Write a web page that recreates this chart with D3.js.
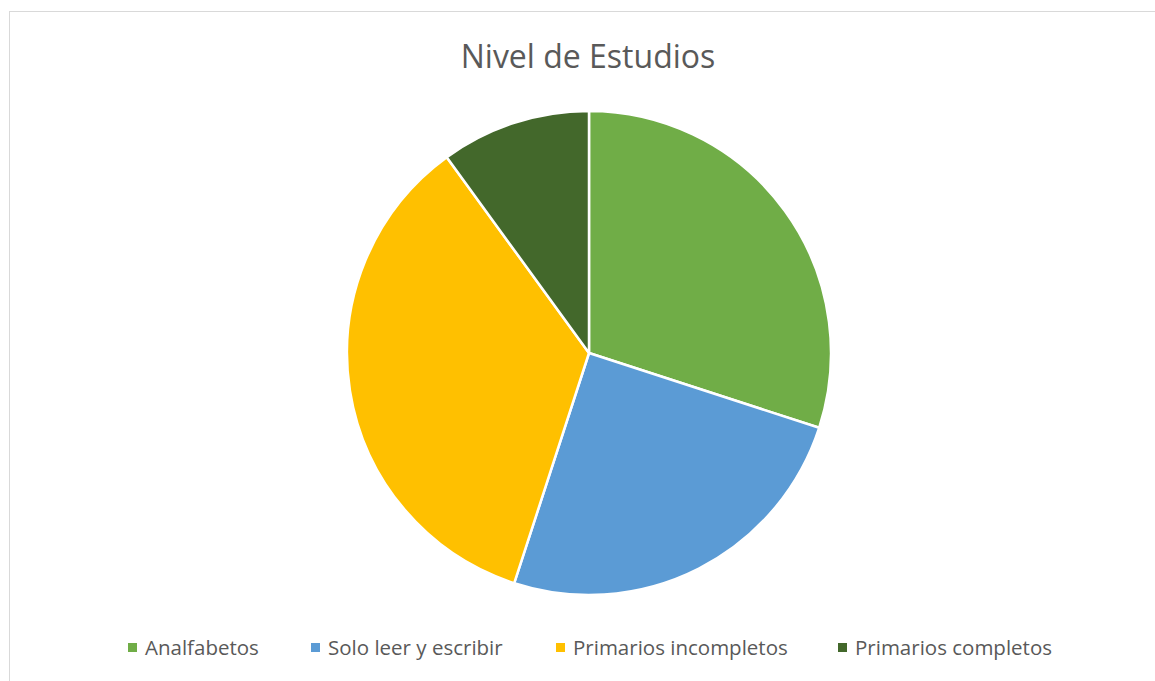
<!DOCTYPE html>
<html><head><meta charset="utf-8">
<script src="https://cdn.jsdelivr.net/npm/d3@7"></script>
<style>body{margin:0;background:#fff;} svg{display:block;}</style>
</head><body>
<script>
const categories = ["Analfabetos", "Solo leer y escribir", "Primarios incompletos", "Primarios completos"];
const values = [30, 25, 35, 10];
const colors = ["#70AD47", "#5B9BD5", "#FFC000", "#43682B"];
const title = "Nivel de Estudios";

const W = 1155, H = 681;
const svg = d3.select("body").append("svg").attr("width", W).attr("height", H);
svg.append("rect").attr("width", W).attr("height", H).attr("fill", "#fff");
svg.append("rect").attr("x", 9.5).attr("y", 11.5).attr("width", W + 20).attr("height", H + 20)
  .attr("fill", "none").attr("stroke", "#D9D9D9").attr("stroke-width", 1);

svg.append("text").attr("x", 588).attr("y", 68).attr("text-anchor", "middle")
  .attr("font-family", "'Open Sans', sans-serif").attr("font-size", 32).attr("fill", "#595959")
  .text(title);

const cx = 589, cy = 353, r = 242;
const pie = d3.pie().sort(null).value(d => d);
const arc = d3.arc().innerRadius(0).outerRadius(r);
const g = svg.append("g").attr("transform", `translate(${cx},${cy})`);
g.selectAll("path").data(pie(values)).join("path")
  .attr("d", arc).attr("fill", (d, i) => colors[i])
  .attr("stroke", "#fff").attr("stroke-width", 2.5).attr("stroke-linejoin", "round");

const legendX = [128, 311, 556, 838];
const lg = svg.append("g");
categories.forEach((c, i) => {
  lg.append("rect").attr("x", legendX[i]).attr("y", 643).attr("width", 9).attr("height", 9).attr("fill", colors[i]);
  lg.append("text").attr("x", legendX[i] + 17).attr("y", 655)
    .attr("font-family", "'Open Sans', sans-serif").attr("font-size", 20.5).attr("fill", "#595959").text(c);
});
</script>
</body></html>
